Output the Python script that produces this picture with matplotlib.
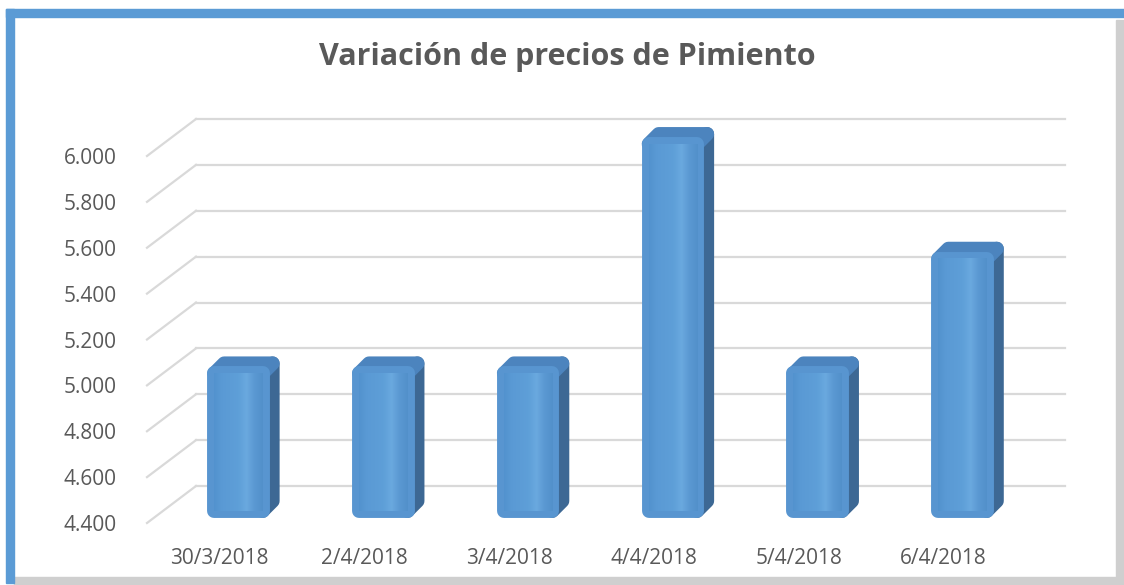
import matplotlib.pyplot as plt
import numpy as np
from matplotlib.patches import Polygon, Rectangle
from matplotlib.lines import Line2D
from matplotlib.colors import LinearSegmentedColormap
from matplotlib.transforms import offset_copy, IdentityTransform

fechas = ['30/3/2018', '2/4/2018', '3/4/2018', '4/4/2018', '5/4/2018', '6/4/2018']
precios = [5000, 5000, 5000, 6000, 5000, 5500]
y_ticks = [4400, 4600, 4800, 5000, 5200, 5400, 5600, 5800, 6000]
y_labels = ['4.400', '4.600', '4.800', '5.000', '5.200', '5.400', '5.600', '5.800', '6.000']
base = 4400

grey_txt = '#595959'
grid_col = '#D9D9D9'
face_col = '#5895D0'
top_col = '#4C84BE'
side_col = '#3D6894'

plt.rcParams['font.family'] = ['Open Sans', 'DejaVu Sans']

fig = plt.figure(figsize=(11.24, 5.85), dpi=100)
W, H = 1124, 585

# frame: blue top/left, grey shadow right/bottom
fig.patches.append(Rectangle((6 / W, (H - 17) / H), (W - 6) / W, 8 / H,
                             transform=fig.transFigure, color='#5B9BD5', zorder=5))
fig.patches.append(Rectangle((6 / W, 2 / H), 8 / W, (H - 11) / H,
                             transform=fig.transFigure, color='#5B9BD5', zorder=5))
fig.patches.append(Rectangle((1116 / W, 0), 8 / W, (H - 20) / H,
                             transform=fig.transFigure, color='#CFCFCF', zorder=4))
fig.patches.append(Rectangle((14 / W, 0), (W - 14) / W, 8 / H,
                             transform=fig.transFigure, color='#CFCFCF', zorder=4))

# front plane of the 3d box
ax = fig.add_axes([147 / W, (H - 523) / H, 869 / W, (523 - 156) / H])
ax.set_xlim(-0.5, len(fechas) - 0.5)
ax.set_ylim(base, 6000)
ax.patch.set_visible(False)
for s in ax.spines.values():
    s.set_visible(False)

x = np.arange(len(fechas))
back = offset_copy(ax.transData, fig, x=49, y=37, units='dots')

# back wall grid + side diagonals
for v in y_ticks:
    ax.plot([-0.5, len(fechas) - 0.5], [v, v], color=grid_col, lw=1.6,
            transform=back, zorder=1, clip_on=False)
    p0 = ax.transData.transform((-0.5, v))
    p1 = back.transform((-0.5, v))
    ax.add_line(Line2D([p0[0], p1[0]], [p0[1], p1[1]], color=grid_col, lw=1.6,
                       transform=IdentityTransform(), zorder=1, clip_on=False))

ax.set_yticks(y_ticks, y_labels)
ax.set_xticks(x, fechas)
ax.tick_params(axis='y', length=0, pad=22, labelsize=15, labelcolor=grey_txt)
ax.tick_params(axis='x', length=0, pad=18, labelsize=15, labelcolor=grey_txt)

# bars: front face shifted into the box, then extrusion
face_tr = offset_copy(ax.transData, fig, x=19, y=12, units='dots')
heights = np.array(precios) - base
bars = ax.bar(x, heights, bottom=base, width=0.335, color=face_col,
              edgecolor=face_col, lw=10, joinstyle='round',
              transform=face_tr, zorder=4, clip_on=False)

shade = LinearSegmentedColormap.from_list(
    'shade', ['#5292CE', '#5A9AD5', '#5C9CD6', '#5E9FD8', '#6AA9DF', '#5A98D2', '#5290CA'])
grad = np.linspace(0, 1, 200).reshape(1, -1)

d = 10
for b in bars:
    verts = b.get_verts()
    x0, y0 = verts[:, 0].min(), verts[:, 1].min()
    x1, y1 = verts[:, 0].max(), verts[:, 1].max()
    side = Polygon([(x1, y0), (x1, y1), (x1 + d, y1 + d), (x1 + d, y0 + d)],
                   closed=True, facecolor=side_col, edgecolor=side_col, lw=10,
                   joinstyle='round', transform=IdentityTransform(), zorder=3,
                   clip_on=False)
    top = Polygon([(x0, y1), (x1, y1), (x1 + d, y1 + d), (x0 + d, y1 + d)],
                  closed=True, facecolor=top_col, edgecolor=top_col, lw=10,
                  joinstyle='round', transform=IdentityTransform(), zorder=3,
                  clip_on=False)
    ax.add_patch(side)
    ax.add_patch(top)
    ax.imshow(grad, cmap=shade, aspect='auto', extent=(x0, x1, y0, y1),
              transform=IdentityTransform(), zorder=5, clip_on=False,
              interpolation='bilinear')

ax.set_xlim(-0.5, len(fechas) - 0.5)
ax.set_ylim(base, 6000)

fig.text(567 / W, (H - 57) / H, 'Variación de precios de Pimiento', ha='center',
         va='center', fontsize=22, fontweight='bold', color=grey_txt)

fig.savefig('out.png', dpi=100)
